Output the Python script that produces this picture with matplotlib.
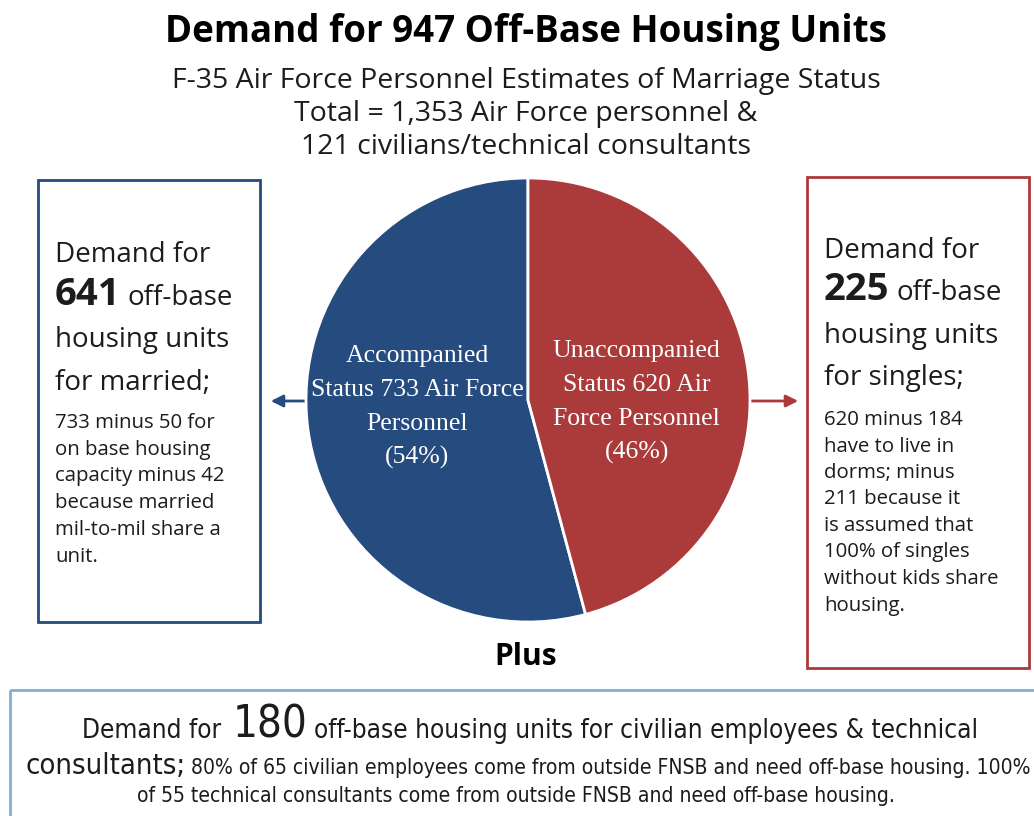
import matplotlib
matplotlib.use("Agg")
import matplotlib.pyplot as plt
from matplotlib.patches import Rectangle
from matplotlib import font_manager as fm

# ---- data ----
title = "Demand for 947 Off-Base Housing Units"
subtitle = ["F-35 Air Force Personnel Estimates of Marriage Status",
            "Total = 1,353 Air Force personnel &",
            "121 civilians/technical consultants"]
groups = ["Accompanied", "Unaccompanied"]
personnel = [733, 620]
pie_labels = [["Accompanied", "Status 733 Air Force", "Personnel", "(54%)"],
              ["Unaccompanied", "Status 620 Air", "Force Personnel", "(46%)"]]
married_units = 641
single_units = 225
civilian_units = 180
married_note = ["733 minus 50 for", "on base housing", "capacity minus 42",
                "because married", "mil-to-mil share a", "unit."]
single_note = ["620 minus 184", "have to live in", "dorms; minus",
               "211 because it", "is assumed that", "100% of singles",
               "without kids share", "housing."]
civ_line1 = "off-base housing units for civilian employees & technical"
civ_line2 = "80% of 65 civilian employees come from outside FNSB and need off-base housing. 100%"
civ_line3 = "of 55 technical consultants come from outside FNSB and need off-base housing."

blue = "#264b7f"
red = "#ab3a3a"
light = "#7fb0d8"
ink = "#1c1c1c"

sans = "Open Sans"
serif = "Liberation Serif"

# a condensed face for the bottom box, if one is installed
narrow, narrow_stretch = "Roboto", "normal"
for f in fm.fontManager.ttflist:
    st = str(f.stretch)
    if f.name in ("Noto Sans", "Noto Sans Condensed", "DejaVu Sans",
                  "DejaVu Sans Condensed", "Liberation Sans Narrow",
                  "Roboto Condensed", "Open Sans Condensed") \
            and f.weight in (400, "normal", "regular") and f.style == "normal" \
            and ("ondensed" in st or "ondensed" in f.name or "Narrow" in f.name):
        narrow, narrow_stretch = f.name, f.stretch
        break

fig = plt.figure(figsize=(10.34, 8.16), dpi=100)
ax = fig.add_axes([0, 0, 1, 1])
ax.set_xlim(0, 1034)
ax.set_ylim(816, 0)
ax.axis("off")
r = fig.canvas.get_renderer()


def run(x, y, parts, ha="left", family=sans, stretch="normal", width=None, scale=1.0):
    texts = []
    for s, size, weight in parts:
        texts.append(ax.text(0, y, s, fontsize=size * scale, fontweight=weight,
                             family=family, stretch=stretch, va="baseline",
                             ha="left", color=ink))

    def measure():
        ws = [t.get_window_extent(r).width for t in texts]
        gaps = [0] + [t.get_fontsize() * 100 / 72 * 0.26 for t in texts[1:]]
        return ws, gaps

    ws, gaps = measure()
    if width is not None:
        k = width / (sum(ws) + sum(gaps))
        scale *= k
        for t in texts:
            t.set_fontsize(t.get_fontsize() * k)
        ws, gaps = measure()
    total = sum(ws) + sum(gaps)
    x0 = x - total / 2 if ha == "center" else x
    for t, w, g in zip(texts, ws, gaps):
        x0 += g
        t.set_x(x0)
        x0 += w
    return scale


# title block
ax.text(526, 42, title, fontsize=26.5, fontweight="bold", family=sans,
        ha="center", va="baseline", color="black")
for i, line in enumerate(subtitle):
    ax.text(526, 88 + i * 33, line, fontsize=20.5, family=sans,
            ha="center", va="baseline", color=ink)

# boxes
ax.add_patch(Rectangle((38, 180), 222, 442, fill=False, edgecolor=blue, lw=2))
ax.add_patch(Rectangle((807, 177), 222, 491, fill=False, edgecolor=red, lw=2))
ax.add_patch(Rectangle((10, 690), 1040, 140, fill=False, edgecolor=light, lw=2,
                       clip_on=False))

# arrows
ax.annotate("", xy=(268, 401), xytext=(308, 401),
            arrowprops=dict(arrowstyle="-|>", color=blue, lw=2, mutation_scale=18))
ax.annotate("", xy=(801, 401), xytext=(748, 401),
            arrowprops=dict(arrowstyle="-|>", color=red, lw=2, mutation_scale=18))

# pie
pax = fig.add_axes([306 / 1034, (816 - 622) / 816, 444 / 1034, 444 / 816])
pax.pie(personnel, startangle=90, counterclock=True, colors=[blue, red],
        wedgeprops=dict(edgecolor="white", linewidth=2))
pax.set_xlim(-1, 1)
pax.set_ylim(-1, 1)
label_pos = [(-0.5, 0.171), (0.49, 0.194)]
for lines, (lx, ly) in zip(pie_labels, label_pos):
    for j, line in enumerate(lines):
        pax.text(lx, ly - j * 0.153, line, fontsize=18.5, family=serif,
                 color="white", ha="center", va="baseline")

ax.text(526, 665, "Plus", fontsize=21.5, fontweight="bold", family=sans,
        ha="center", va="baseline", color="black")

# left box text
run(55, 262, [("Demand for", 20, "normal")])
run(55, 305, [(str(married_units), 27.5, "bold"), ("off-base", 20, "normal")])
run(55, 347, [("housing units", 20, "normal")])
run(55, 390, [("for married;", 20, "normal")])
for i, line in enumerate(married_note):
    run(55, 428 + i * 26.7, [(line, 14.7, "normal")])

# right box text
run(824, 258, [("Demand for", 20, "normal")])
run(824, 300, [(str(single_units), 27.5, "bold"), ("off-base", 20, "normal")])
run(824, 343, [("housing units", 20, "normal")])
run(824, 385, [("for singles;", 20, "normal")])
for i, line in enumerate(single_note):
    run(824, 425 + i * 26.5, [(line, 14.7, "normal")])

# bottom box text
run(530, 738, [("Demand for", 18, "normal"), (str(civilian_units), 30, "normal"),
               (civ_line1, 18, "normal")],
    ha="center", family=narrow, stretch=narrow_stretch, width=896)
k = run(528, 774, [("consultants;", 18, "normal"), (civ_line2, 13, "normal")],
        ha="center", family=narrow, stretch=narrow_stretch, width=1003)
run(516, 802, [(civ_line3, 13, "normal")], ha="center", family=narrow,
    stretch=narrow_stretch, scale=k)

fig.savefig("out.png", dpi=100)
